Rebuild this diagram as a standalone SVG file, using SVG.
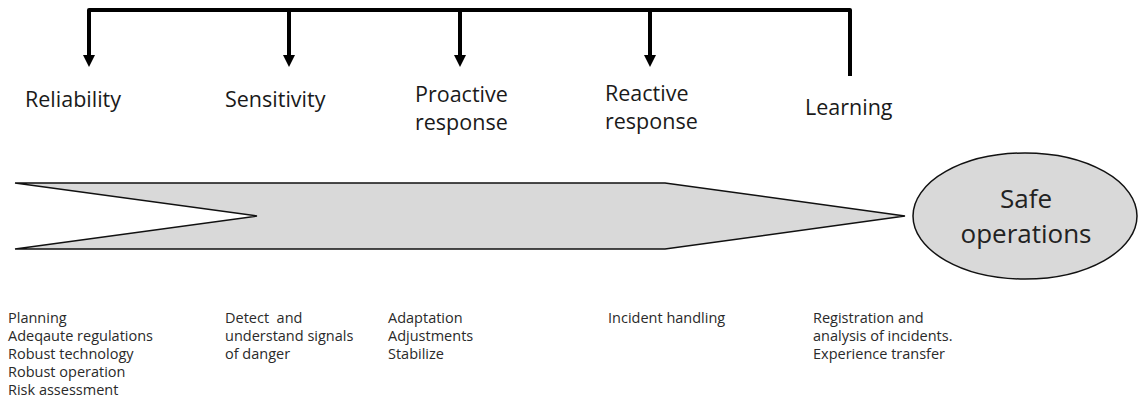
<svg xmlns="http://www.w3.org/2000/svg" width="1140" height="412" viewBox="0 0 1140 412">
  <style>
    .title { font-family: "Open Sans", "Liberation Sans", sans-serif; font-size: 21.5px; fill: #1a1a1a; }
    .note { font-family: "Open Sans", "Liberation Sans", sans-serif; font-size: 14.5px; fill: #2a2a2a; white-space: pre; }
    .big { font-family: "Open Sans", "Liberation Sans", sans-serif; font-size: 26px; fill: #222; text-anchor: middle; }
    .conn { fill: none; stroke: #000; stroke-width: 4; }
    .head { fill: #000; }
    .shape { fill: #d9d9d9; stroke: #111; stroke-width: 1.5; }
  </style>
  <rect width="1140" height="412" fill="#fff"/>

  <g id="connectors">
    <path class="conn" d="M89,56 L89,10 L850,10 L850,76" stroke-linejoin="round"/>
    <path class="head" d="M83,55 L95,55 L89,67 Z"/>
    <path class="conn" d="M289,10 L289,56"/>
    <path class="head" d="M283,55 L295,55 L289,67 Z"/>
    <path class="conn" d="M460,10 L460,56"/>
    <path class="head" d="M454,55 L466,55 L460,67 Z"/>
    <path class="conn" d="M650,10 L650,56"/>
    <path class="head" d="M644,55 L656,55 L650,67 Z"/>
  </g>

  <g id="reliability">
    <text class="title" x="25" y="107">Reliability</text>
  </g>
  <g id="sensitivity">
    <text class="title" x="225" y="107">Sensitivity</text>
  </g>
  <g id="proactive">
    <text class="title" x="415" y="102">Proactive</text>
    <text class="title" x="415" y="130">response</text>
  </g>
  <g id="reactive">
    <text class="title" x="605" y="101">Reactive</text>
    <text class="title" x="605" y="129">response</text>
  </g>
  <g id="learning">
    <text class="title" x="805" y="115">Learning</text>
  </g>

  <g id="band">
    <polygon class="shape" points="15,183 665,183 905,216 665,249 15,249 257,216"/>
  </g>

  <g id="safe-operations">
    <ellipse class="shape" cx="1025" cy="216" rx="112" ry="63"/>
    <text class="big" x="1026" y="208">Safe</text>
    <text class="big" x="1026" y="243">operations</text>
  </g>

  <g id="notes-reliability">
    <text class="note" x="8" y="323">Planning</text>
    <text class="note" x="8" y="341">Adeqaute regulations</text>
    <text class="note" x="8" y="359">Robust technology</text>
    <text class="note" x="8" y="377">Robust operation</text>
    <text class="note" x="8" y="395">Risk assessment</text>
  </g>
  <g id="notes-sensitivity">
    <text class="note" x="225" y="323" xml:space="preserve">Detect  and</text>
    <text class="note" x="225" y="341">understand signals</text>
    <text class="note" x="225" y="359">of danger</text>
  </g>
  <g id="notes-proactive">
    <text class="note" x="388" y="323">Adaptation</text>
    <text class="note" x="388" y="341">Adjustments</text>
    <text class="note" x="388" y="359">Stabilize</text>
  </g>
  <g id="notes-reactive">
    <text class="note" x="608" y="323">Incident handling</text>
  </g>
  <g id="notes-learning">
    <text class="note" x="813" y="323">Registration and</text>
    <text class="note" x="813" y="341">analysis of incidents.</text>
    <text class="note" x="813" y="359">Experience transfer</text>
  </g>
</svg>
